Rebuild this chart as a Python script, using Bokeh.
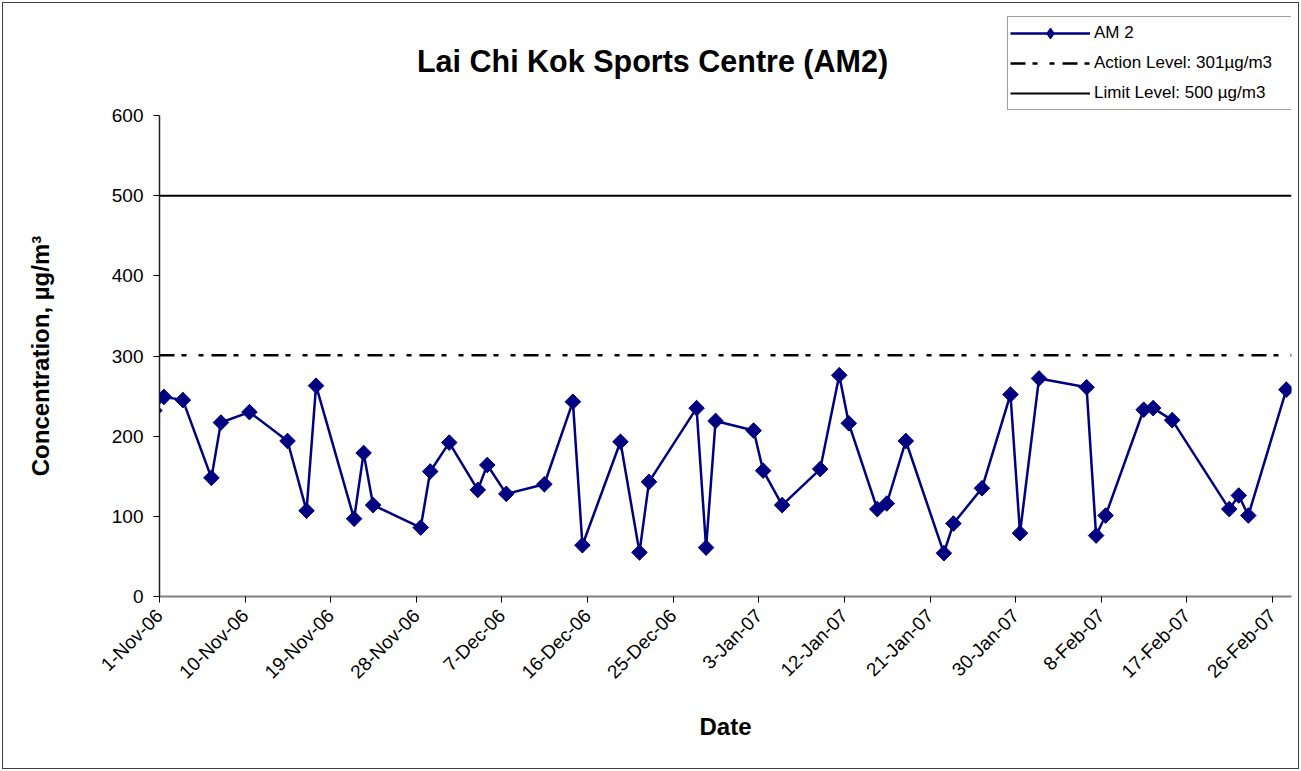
from datetime import datetime, timedelta
from math import pi
from bokeh.plotting import figure
from bokeh.layouts import row
from bokeh.models import (Range1d, FixedTicker, DatetimeTickFormatter, Legend,
                          LegendItem, ColumnDataSource, Label)
from bokeh.embed import file_html
from bokeh.resources import INLINE

# ---------------- data ----------------
dates = ["31-Oct-06",
         "1-Nov-06", "3-Nov-06", "6-Nov-06", "7-Nov-06", "10-Nov-06", "14-Nov-06",
         "16-Nov-06", "17-Nov-06", "21-Nov-06", "22-Nov-06", "23-Nov-06", "28-Nov-06",
         "29-Nov-06", "1-Dec-06", "4-Dec-06", "5-Dec-06", "7-Dec-06", "11-Dec-06",
         "14-Dec-06", "15-Dec-06", "19-Dec-06", "21-Dec-06", "22-Dec-06", "27-Dec-06",
         "28-Dec-06", "29-Dec-06", "2-Jan-07", "3-Jan-07", "5-Jan-07", "9-Jan-07",
         "11-Jan-07", "12-Jan-07", "15-Jan-07", "16-Jan-07", "18-Jan-07", "22-Jan-07",
         "23-Jan-07", "26-Jan-07", "29-Jan-07", "30-Jan-07", "1-Feb-07", "6-Feb-07",
         "7-Feb-07", "8-Feb-07", "12-Feb-07", "13-Feb-07", "15-Feb-07", "21-Feb-07",
         "22-Feb-07", "23-Feb-07", "27-Feb-07"]
am2 = [232,
       249, 245, 148, 217, 230, 194,
       107, 263, 97, 179, 114, 86,
       156, 192, 133, 164, 128, 140,
       243, 64, 193, 55, 143, 235,
       61, 219, 207, 157, 114, 159,
       276, 216, 109, 116, 194, 54,
       91, 135, 252, 79, 272, 261,
       76, 101, 233, 235, 220, 109,
       126, 101, 258]

action_level = 301
limit_level = 500

tick_labels = ["1-Nov-06", "10-Nov-06", "19-Nov-06", "28-Nov-06", "7-Dec-06",
               "16-Dec-06", "25-Dec-06", "3-Jan-07", "12-Jan-07", "21-Jan-07",
               "30-Jan-07", "8-Feb-07", "17-Feb-07", "26-Feb-07"]
x_start_label = "1-Nov-06"
x_end_label = "28-Feb-07"
y_ticks = [0, 100, 200, 300, 400, 500, 600]
y_max = 600

# ---------------- layout constants (canvas pixels) ----------------
W, H = 1295, 765
YLAB_W = 60                      # narrow strip holding the y-axis title
FRAME_L, FRAME_R = 156, 1288     # plot area, whole-canvas coordinates
FRAME_T, FRAME_B = 112, 593      # 600 line and 0 line
LEFT = FRAME_L - YLAB_W
RIGHT = W - FRAME_R
BOTTOM = H - FRAME_B
PX_PER_UNIT = (FRAME_B - FRAME_T) / y_max
Y_TOP = FRAME_B / PX_PER_UNIT    # headroom above 600 for title / legend

def parse(s):
    return datetime.strptime(s, "%d-%b-%y")

def ms(dt):
    return (dt - datetime(1970, 1, 1)).total_seconds() * 1000.0

# points sit in the middle of each day (Excel date axis style)
xs = [ms(parse(d) + timedelta(hours=11)) for d in dates]
x0 = ms(parse(x_start_label))
x1 = ms(parse(x_end_label))

src = ColumnDataSource(dict(x=xs, y=am2))

FONT = "Liberation Sans"
NAVY = "#000080"

y_range = Range1d(0, Y_TOP)

# ---------------- y-axis title strip (frame aligned with main plot) ----------------
ylab = figure(width=YLAB_W, height=H, output_backend="svg", toolbar_location=None,
              x_range=Range1d(0, YLAB_W), y_range=y_range,
              x_axis_type=None, y_axis_type=None, title=None,
              min_border_left=0, min_border_right=0,
              min_border_top=0, min_border_bottom=BOTTOM,
              border_fill_color="white", background_fill_color="white")
ylab.outline_line_color = None
ylab.grid.visible = False
ylab.add_layout(Label(x=37, y=y_max / 2, text="Concentration, µg/m³",
                      text_font=FONT, text_font_style="bold", text_font_size="24px",
                      text_align="center", text_baseline="middle", angle=pi / 2,
                      text_color="black"))

# ---------------- main plot ----------------
p = figure(width=W - YLAB_W, height=H, output_backend="svg", toolbar_location=None,
           x_range=Range1d(x0, x1), y_range=y_range,
           min_border_left=LEFT, min_border_right=RIGHT, min_border_top=0,
           min_border_bottom=BOTTOM,
           title=None, background_fill_color="white", border_fill_color="white")
p.outline_line_color = None
p.xgrid.visible = False
p.ygrid.visible = False

r_line = p.line("x", "y", source=src, line_color=NAVY, line_width=2.5)
# diamond (legend shape) hidden under the rotated-square markers
r_dia = p.scatter("x", "y", source=src, marker="diamond", size=15,
                  fill_color=NAVY, line_color=NAVY)
r_pts = p.scatter("x", "y", source=src, marker="square", angle=pi / 4, size=11,
                  fill_color=NAVY, line_color=NAVY)
r_act = p.line([x0, x1], [action_level, action_level], line_color="black",
               line_width=2.5, line_dash="15 7 5 12 5 8")
r_lim = p.line([x0, x1], [limit_level, limit_level], line_color="black",
               line_width=2)

# x axis
p.xaxis.ticker = FixedTicker(ticks=[ms(parse(t)) for t in tick_labels])
p.xaxis.formatter = DatetimeTickFormatter(days="%-d-%b-%y", months="%-d-%b-%y",
                                          hours="%-d-%b-%y", years="%-d-%b-%y")
p.xaxis.major_label_orientation = pi / 4
p.xaxis.axis_line_color = "#808080"
p.xaxis.axis_line_width = 2
p.xaxis.major_tick_line_color = "black"
p.xaxis.major_tick_in = 0
p.xaxis.major_tick_out = 6
p.xaxis.minor_tick_line_color = None
p.xaxis.major_label_text_font = FONT
p.xaxis.major_label_text_font_size = "19px"
p.xaxis.major_label_text_color = "black"
p.xaxis.major_label_standoff = 10
p.xaxis.axis_label = "Date"
p.xaxis.axis_label_text_font = FONT
p.xaxis.axis_label_text_font_style = "bold"
p.xaxis.axis_label_text_font_size = "24px"
p.xaxis.axis_label_text_color = "black"
p.xaxis.axis_label_standoff = 20

# y axis
p.yaxis.ticker = FixedTicker(ticks=y_ticks)
p.yaxis.bounds = (0, y_max)
p.yaxis.axis_line_color = "#202020"
p.yaxis.axis_line_width = 1.5
p.yaxis.major_tick_line_color = "black"
p.yaxis.major_tick_in = 0
p.yaxis.major_tick_out = 6
p.yaxis.minor_tick_line_color = None
p.yaxis.major_label_text_font = FONT
p.yaxis.major_label_text_font_size = "19px"
p.yaxis.major_label_text_color = "black"
p.yaxis.major_label_standoff = 10

# chart title inside the tall frame, above the 600 line
title_x = x0 + (x1 - x0) * ((649 - FRAME_L) / (FRAME_R - FRAME_L))
title_y = (FRAME_B - 57) / PX_PER_UNIT
p.add_layout(Label(x=title_x, y=title_y, text="Lai Chi Kok Sports Centre (AM2)",
                   text_font=FONT, text_font_style="bold", text_font_size="30.5px",
                   text_align="center", text_baseline="middle",
                   text_color="black"))

legend = Legend(items=[
    LegendItem(label="AM 2", renderers=[r_line, r_dia]),
    LegendItem(label="Action Level: 301µg/m3", renderers=[r_act]),
    LegendItem(label="Limit Level: 500 µg/m3", renderers=[r_lim]),
], location=(1004 - FRAME_L, FRAME_B - 107))
legend.label_text_font = FONT
legend.label_text_font_size = "17px"
legend.label_text_color = "black"
legend.glyph_width = 80
legend.glyph_height = 28
legend.label_height = 28
legend.label_width = 195
legend.label_standoff = 4
legend.spacing = 2
legend.padding = 2
legend.margin = 0
legend.border_line_color = "#404040"
legend.border_line_width = 1
legend.background_fill_alpha = 1
p.add_layout(legend, "center")

layout = row(ylab, p, spacing=0,
             styles={"border": "1px solid #404040", "margin": "2px"})

open("out.html", "w").write(file_html(layout, INLINE))
